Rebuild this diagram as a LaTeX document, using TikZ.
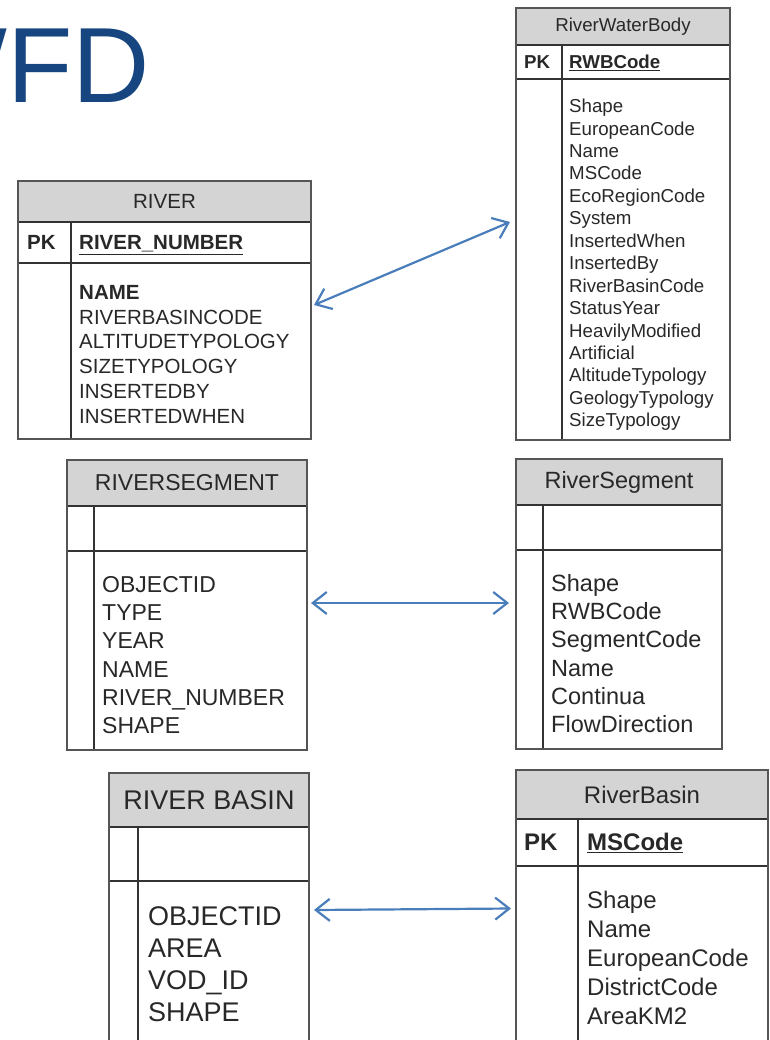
\documentclass[tikz,border=0pt]{standalone}
\usepackage{fontspec}
\setmainfont{Liberation Sans}
\usetikzlibrary{arrows.meta}
\definecolor{titleblue}{RGB}{23,69,128}
\definecolor{linkblue}{RGB}{74,126,187}
\definecolor{headgray}{RGB}{212,212,212}
\definecolor{framegray}{RGB}{85,85,85}
\definecolor{textgray}{RGB}{40,40,40}
\tikzset{
  frame/.style={draw=framegray, line width=2pt, inner sep=0pt, outer sep=0pt, anchor=north west},
  head/.style={fill=headgray, inner sep=0pt, outer sep=0pt, anchor=north west, text=textgray},
  sep/.style={draw=black!80, line width=1.3pt},
  field/.style={anchor=base west, inner sep=0pt, text=textgray},
  link/.style={draw=linkblue, line width=2.2pt,
    {Straight Barb[length=14pt,width=22pt]}-{Straight Barb[length=14pt,width=22pt]}},
}
\begin{document}
\begin{tikzpicture}[x=1pt, y=-1pt]
    \useasboundingbox (0,0) rectangle (769,1040);
    \clip (0,0) rectangle (769,1040);

    % タイトル
    \node[anchor=base west, inner sep=0pt, text=titleblue, font=\fontsize{107}{120}\selectfont] (title) at (-94,103) {WFD};

    % 表: RIVER
    \begin{scope}[font=\fontsize{20.5}{24}\selectfont]
    \node[head, minimum width=293pt, minimum height=41pt] (river-h) at (18,181) {RIVER};
    \draw[sep] (18,222) -- (311,222);
    \draw[sep] (18,263) -- (311,263);
    \draw[sep] (71,222) -- (71,439);
    \node[frame, minimum width=293pt, minimum height=258pt] (river) at (18,181) {};
    \node[field, font=\fontsize{20.5}{24}\selectfont\bfseries] (river-pk) at (27,249.8) {PK};
    \node[field, font=\fontsize{20.5}{24}\selectfont\bfseries] (river-key) at (79,249.8) {\underline{RIVER\_NUMBER}};
    \node[field, font=\fontsize{20.5}{24}\selectfont\bfseries] (river-f0) at (79,299.3) {NAME};
    \foreach \t [count=\i] in {RIVERBASINCODE, ALTITUDETYPOLOGY, SIZETYPOLOGY, INSERTEDBY, INSERTEDWHEN}
        \node[field] (river-f\i) at (79,{299.3+24.8*\i}) {\t};
    \end{scope}

    % 表: RiverWaterBody
    \begin{scope}[font=\fontsize{18.7}{22}\selectfont]
    \node[head, minimum width=214pt, minimum height=37pt] (rwb-h) at (516,8) {RiverWaterBody};
    \draw[sep] (516,45) -- (730,45);
    \draw[sep] (516,79) -- (730,79);
    \draw[sep] (562,45) -- (562,440);
    \node[frame, minimum width=214pt, minimum height=432pt] (rwb) at (516,8) {};
    \node[field, font=\fontsize{18.7}{22}\selectfont\bfseries] (rwb-pk) at (524,68.7) {PK};
    \node[field, font=\fontsize{18.7}{22}\selectfont\bfseries] (rwb-key) at (569,68.7) {\underline{RWBCode}};
    \foreach \t [count=\i from 0] in {Shape, EuropeanCode, Name, MSCode, EcoRegionCode, System, InsertedWhen, InsertedBy, RiverBasinCode, StatusYear, HeavilyModified, Artificial, AltitudeTypology, GeologyTypology, SizeTypology}
        \node[field] (rwb-f\i) at (569,{112.7+22.43*\i}) {\t};
    \end{scope}

    % 表: RIVERSEGMENT
    \begin{scope}[font=\fontsize{23}{27}\selectfont]
    \node[head, minimum width=240pt, minimum height=46pt] (rseg-h) at (67,460) {RIVERSEGMENT};
    \draw[sep] (67,506) -- (307,506);
    \draw[sep] (67,551) -- (307,551);
    \draw[sep] (94,506) -- (94,750);
    \node[frame, minimum width=240pt, minimum height=290pt] (rseg) at (67,460) {};
    \foreach \t [count=\i from 0] in {OBJECTID, TYPE, YEAR, NAME, RIVER\_NUMBER, SHAPE}
        \node[field] (rseg-f\i) at (102,{592.5+28.2*\i}) {\t};
    \end{scope}

    % 表: RiverSegment
    \begin{scope}[font=\fontsize{23.5}{27}\selectfont]
    \node[head, minimum width=206pt, minimum height=46pt] (segm-h) at (516,459) {RiverSegment};
    \draw[sep] (516,505) -- (722,505);
    \draw[sep] (516,550) -- (722,550);
    \draw[sep] (543,505) -- (543,749);
    \node[frame, minimum width=206pt, minimum height=290pt] (segm) at (516,459) {};
    \foreach \t [count=\i from 0] in {Shape, RWBCode, SegmentCode, Name, Continua, FlowDirection}
        \node[field] (segm-f\i) at (551,{591.4+28.2*\i}) {\t};
    \end{scope}

    % 表: RIVER BASIN
    \begin{scope}[font=\fontsize{27}{31}\selectfont]
    \node[head, minimum width=200pt, minimum height=54pt] (rbasin-h) at (109,773) {RIVER BASIN};
    \draw[sep] (109,827) -- (309,827);
    \draw[sep] (109,881) -- (309,881);
    \draw[sep] (138,827) -- (138,1045);
    \node[frame, minimum width=200pt, minimum height=280pt] (rbasin) at (109,773) {};
    \foreach \t [count=\i from 0] in {OBJECTID, AREA, VOD\_ID, SHAPE}
        \node[field] (rbasin-f\i) at (148,{925.7+32*\i}) {\t};
    \end{scope}

    % 表: RiverBasin
    \begin{scope}[font=\fontsize{24}{28}\selectfont]
    \node[head, minimum width=252pt, minimum height=49pt] (basin-h) at (516,770) {RiverBasin};
    \draw[sep] (516,819) -- (768,819);
    \draw[sep] (516,866) -- (768,866);
    \draw[sep] (578,819) -- (578,1045);
    \node[frame, minimum width=252pt, minimum height=280pt] (basin) at (516,770) {};
    \node[field, font=\fontsize{24}{28}\selectfont\bfseries] (basin-pk) at (524,850.6) {PK};
    \node[field, font=\fontsize{24}{28}\selectfont\bfseries] (basin-key) at (587,850.6) {\underline{MSCode}};
    \foreach \t [count=\i from 0] in {Shape, Name, EuropeanCode, DistrictCode, AreaKM2}
        \node[field] (basin-f\i) at (587,{908.6+29*\i}) {\t};
    \end{scope}

    % 対応関係
    \draw[link] ([xshift=3pt,yshift=5pt]river.east) -- ([xshift=-6pt,yshift=2pt]rwb.west);
    \draw[link] ([xshift=4pt,yshift=2pt]rseg.east) -- ([xshift=-7pt,yshift=1pt]segm.west);
    \draw[link] ([xshift=5pt,yshift=3pt]rbasin.east) -- ([xshift=-5pt,yshift=1.5pt]basin.west);
\end{tikzpicture}
\end{document}
